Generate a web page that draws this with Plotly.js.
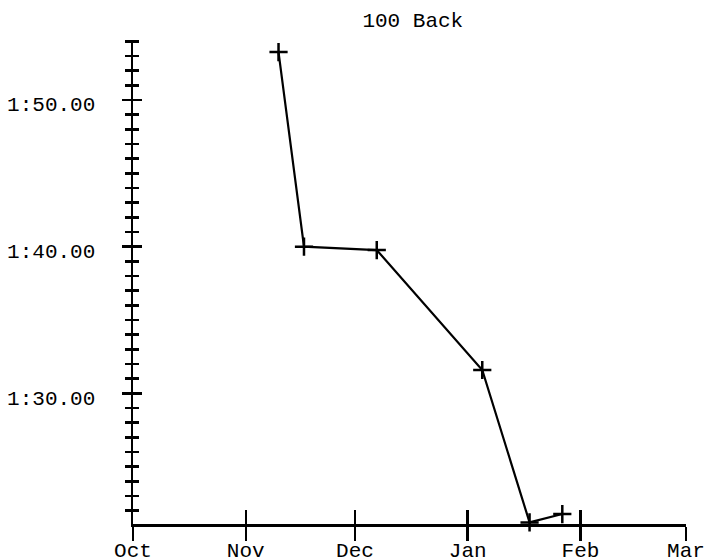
<!DOCTYPE html>
<html>
<head>
<meta charset="utf-8">
<script src="https://cdn.plot.ly/plotly-3.0.1.min.js"></script>
<style>html,body{margin:0;padding:0;background:#fff;}#chart{width:706px;height:558px;}</style>
</head>
<body>
<div id="chart"></div>
<script>
// Swim dates and 100 Back times (seconds)
const swimDates = ['2023-11-10','2023-11-17','2023-12-07','2024-01-05','2024-01-18','2024-01-27'];
const swimTimes = [113.27, 100.0, 99.77, 91.59, 81.2, 81.77];
const yTickVals = [90, 100, 110];
const yTickText = ['1:30.00', '1:40.00', '1:50.00'];
const xRange = ['2023-10-01', '2024-03-01'];
const yRange = [81.09, 114.09];
const chartTitle = '100 Back';

const fnt = {family: 'Liberation Mono, Courier New, monospace', size: 21, color: '#000'};

const traces = [
  {
    x: swimDates, y: swimTimes, xaxis: 'x', yaxis: 'y',
    mode: 'lines+markers', type: 'scatter',
    line: {color: '#000', width: 2.2},
    marker: {symbol: 'cross-thin', size: 13, line: {color: '#000', width: 2.5}},
    hoverinfo: 'skip', showlegend: false, cliponaxis: false
  },
  {
    x: swimDates, y: swimTimes, xaxis: 'x2', yaxis: 'y2',
    mode: 'lines', type: 'scatter', opacity: 0,
    line: {width: 0}, hoverinfo: 'skip', showlegend: false
  }
];

const layout = {
  width: 706, height: 558,
  margin: {l: 133, r: 20, t: 40, b: 34, pad: 0},
  paper_bgcolor: '#fff', plot_bgcolor: '#fff',
  font: fnt,
  title: {text: chartTitle, font: fnt, xref: 'paper', x: 0.506, xanchor: 'center', yref: 'container', y: 0.964, yanchor: 'middle'},
  xaxis: {
    type: 'date', range: xRange, dtick: 'M1', tick0: '2023-10-01', tickformat: '%b',
    ticks: 'outside', ticklen: 14, tickwidth: 2.5, tickcolor: '#000',
    showline: true, linewidth: 2.5, linecolor: '#000',
    showgrid: false, zeroline: false, tickfont: fnt, ticklabelstandoff: -9, fixedrange: true
  },
  xaxis2: {
    type: 'date', range: xRange, dtick: 'M1', tick0: '2023-10-01', overlaying: 'x', anchor: 'y', side: 'bottom',
    ticks: 'inside', ticklen: 14, tickwidth: 2.5, tickcolor: '#000',
    showticklabels: false, showline: false, showgrid: false, zeroline: false, fixedrange: true
  },
  yaxis: {
    range: yRange, tickmode: 'array', tickvals: yTickVals, ticktext: yTickText,
    ticks: 'outside', ticklen: 9, tickwidth: 2.5, tickcolor: '#000',
    minor: {tick0: 0, dtick: 1, ticks: 'outside', ticklen: 6, tickwidth: 2.5, tickcolor: '#000', showgrid: false},
    showline: true, linewidth: 2.5, linecolor: '#000',
    showgrid: false, zeroline: false, tickfont: fnt, ticklabelstandoff: 22, ticklabelshift: 4, fixedrange: true
  },
  yaxis2: {
    range: yRange, overlaying: 'y', anchor: 'x', side: 'left', tickmode: 'array', tickvals: yTickVals,
    ticks: 'inside', ticklen: 9, tickwidth: 2.5, tickcolor: '#000',
    minor: {tick0: 0, dtick: 1, ticks: 'inside', ticklen: 6, tickwidth: 2.5, tickcolor: '#000', showgrid: false},
    showticklabels: false, showline: false, showgrid: false, zeroline: false, fixedrange: true
  }
};

Plotly.newPlot('chart', traces, layout, {displayModeBar: false, staticPlot: true});
</script>
</body>
</html>
